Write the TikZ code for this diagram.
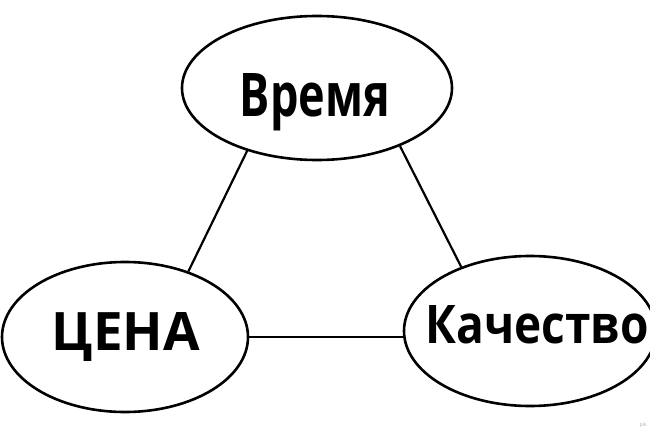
\documentclass[tikz,border=0pt]{standalone}
\usepackage{fontspec}
\setmainfont{Open Sans}
\usetikzlibrary{shapes.geometric}
\begin{document}
\begin{tikzpicture}[x=1pt,y=-1pt,
  oval/.style={ellipse, draw, line width=2.6pt, inner sep=0pt},
  link/.style={line width=2.2pt},
  lbl/.style={anchor=base, inner sep=0pt, font=\bfseries}]
\useasboundingbox (0,0) rectangle (650,433);
\clip (0,0) rectangle (650,433);
\fill[white] (0,0) rectangle (650,433);
\node[oval, minimum width=270pt, minimum height=144pt] (time) at (317,88) {};
\node[oval, minimum width=246pt, minimum height=150pt] (cena) at (125,337) {};
\node[oval, minimum width=252pt, minimum height=150pt] (kach) at (530,331) {};
\node[lbl] (timetext) at (315,117) {\resizebox{150pt}{43pt}{Время}};
\node[lbl] (cenatext) at (126,350) {\resizebox{148pt}{38pt}{ЦЕНА}};
\node[lbl] (kachtext) at (537,343) {\resizebox{223pt}{38pt}{Качество}};
\draw[link] (time.222) -- (cena.46);
\draw[link] (time.325) -- (kach.137);
\draw[link] (cena.east) -- (cena.east -| kach.west);
\node[font=\tiny, text=gray!60, anchor=east] (wm) at (650,425) {pik};
\end{tikzpicture}
\end{document}
